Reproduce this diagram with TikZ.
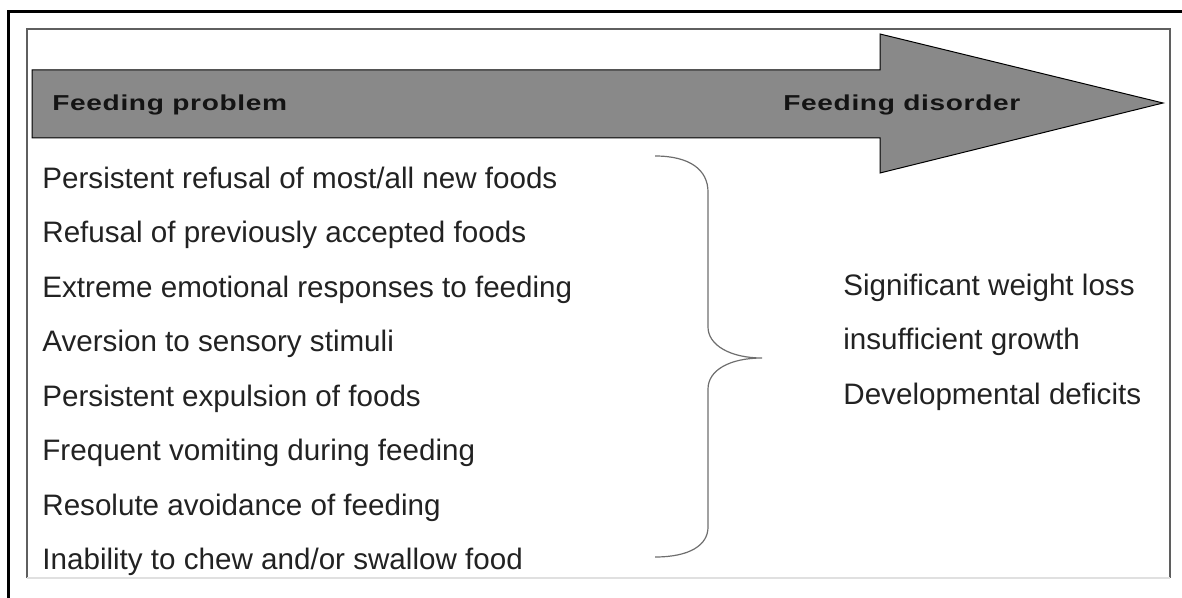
\documentclass[tikz,border=0pt]{standalone}
\usepackage{fontspec}
\setmainfont{Liberation Sans}
\newfontfamily\headfont[FakeStretch=1.3, LetterSpace=3]{Liberation Sans}
\usetikzlibrary{positioning}
\definecolor{arrowgray}{RGB}{137,137,137}
\definecolor{textgray}{RGB}{34,34,34}
\definecolor{framegray}{RGB}{95,95,95}
\definecolor{bracegray}{RGB}{110,110,110}

\begin{document}
\begin{tikzpicture}[x=0.5pt, y=-0.5pt, font=\fontsize{14.8}{17}\selectfont, node distance=13.85pt,
  item/.style={anchor=north west, inner sep=0pt, text height=10pt, text depth=3pt, text=textgray},
  head/.style={anchor=base west, inner sep=0pt, font=\headfont\bfseries\fontsize{10.8}{12}\selectfont, text=black!92}]
\useasboundingbox (0,0) rectangle (1182,598);
% frame
\draw[line width=1.5pt] (1190,12) -- (8,12) -- (8,606);
\draw[framegray, line width=0.6pt] (27,578) -- (27,29) -- (1170,29) -- (1170,578);
\draw[black!12, line width=0.6pt] (27,578) -- (1170,578);
% arrow
\draw[fill=arrowgray, line width=0.5pt] (32,70) -- (880,70) -- (880,34) -- (1163,103) -- (880,173) -- (880,138) -- (32,138) -- cycle;
\node[head] (prob) at (52,111) {Feeding problem};
\node[head] (dis) at (783,111) {Feeding disorder};
% feeding problems
\node[item] (p1) at (42,168) {Persistent refusal of most/all new foods};
\node[item, below=of p1.south west, anchor=north west] (p2) {Refusal of previously accepted foods};
\node[item, below=of p2.south west, anchor=north west] (p3) {Extreme emotional responses to feeding};
\node[item, below=of p3.south west, anchor=north west] (p4) {Aversion to sensory stimuli};
\node[item, below=of p4.south west, anchor=north west] (p5) {Persistent expulsion of foods};
\node[item, below=of p5.south west, anchor=north west] (p6) {Frequent vomiting during feeding};
\node[item, below=of p6.south west, anchor=north west] (p7) {Resolute avoidance of feeding};
\node[item, below=of p7.south west, anchor=north west] (p8) {Inability to chew and/or swallow food};
% brace
\draw[bracegray, line width=0.6pt] (655,156) .. controls (690,156) and (708,170) .. (708,192) -- (708,327)
  .. controls (708,345) and (730,358) .. (762,358) .. controls (730,358) and (708,370) .. (708,389) -- (708,527)
  .. controls (708,545) and (690,557) .. (655,557);
% feeding disorder
\node[item] (d1) at (843,275) {Significant weight loss};
\node[item, below=of d1.south west, anchor=north west] (d2) {insufficient growth};
\node[item, below=of d2.south west, anchor=north west] (d3) {Developmental deficits};
\end{tikzpicture}
\end{document}
